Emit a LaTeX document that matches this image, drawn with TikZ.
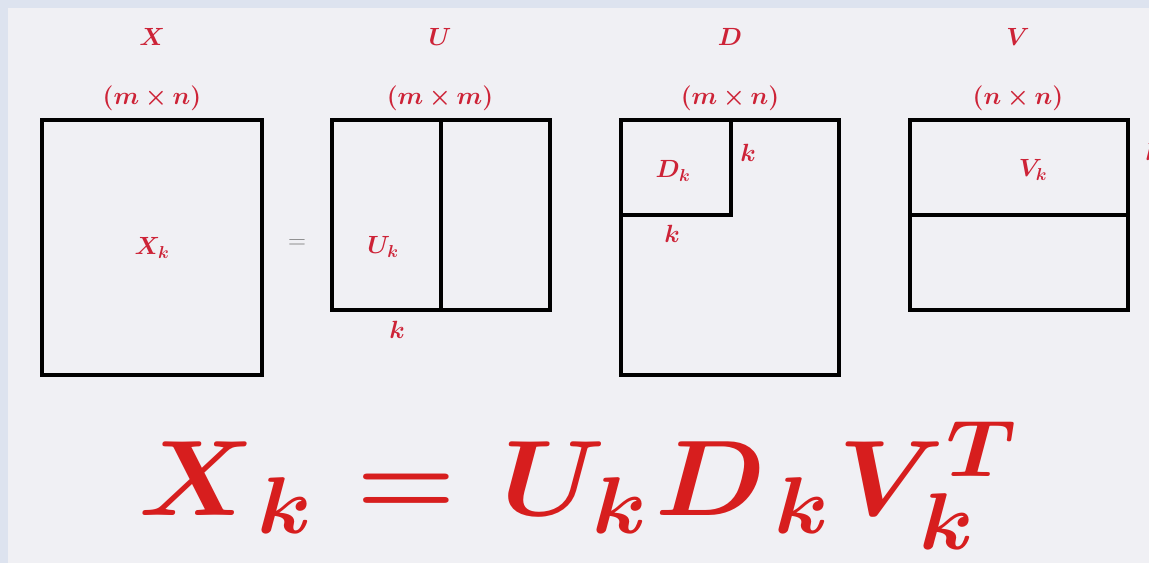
\documentclass[tikz,border=0pt]{standalone}
\usepackage{amsmath,bm,graphicx}
\DeclareMathSizes{12}{12}{9}{7}
\definecolor{bgc}{RGB}{240,240,244}
\definecolor{stripc}{RGB}{221,227,239}
\definecolor{lblred}{RGB}{205,35,55}
\definecolor{bigred}{RGB}{215,30,30}
\definecolor{eqgray}{RGB}{130,130,130}
\tikzset{
  mat/.style={draw=black,line width=4pt},
  lbl/.style={text=lblred,inner sep=0pt,font=\fontsize{24}{28}\selectfont},
}
\newcommand{\bs}[1]{\ensuremath{\boldsymbol{#1}}}
\begin{document}
\begin{tikzpicture}[x=1pt,y=-1pt]
\useasboundingbox (0,0) rectangle (1149,563);
\clip (0,0) rectangle (1149,563);
\fill[stripc] (0,0) rectangle (1149,563);
\fill[bgc] (8,8) rectangle (1149,563);
% matrices
\draw[mat] (42,120) rectangle (262,375);
\draw[mat] (332,120) rectangle (550,310);
\draw[mat] (441,120) -- (441,310);
\draw[mat] (621,120) rectangle (839,375);
\draw[mat] (621,215) -- (731,215) -- (731,120);
\draw[mat] (910,120) rectangle (1128,310);
\draw[mat] (910,215) -- (1128,215);
% titles
\node[lbl] (tX) at (152,37) {$\bs{X}$};
\node[lbl] (tU) at (440,37) {$\bs{U}$};
\node[lbl] (tD) at (730,37) {$\bs{D}$};
\node[lbl] (tV) at (1018,37) {$\bs{V}$};
\node[lbl] (sX) at (152,98) {$\bs{(m\times n)}$};
\node[lbl] (sU) at (440,98) {$\bs{(m\times m)}$};
\node[lbl] (sD) at (730,98) {$\bs{(m\times n)}$};
\node[lbl] (sV) at (1018,98) {$\bs{(n\times n)}$};
% inner labels
\node[lbl] (Xk) at (152,248) {$\bs{X_k}$};
\node[inner sep=0pt,text=eqgray,font=\fontsize{24}{28}\selectfont] (eq) at (297,244) {$=$};
\node[lbl] (Uk) at (383,247) {$\bs{U_k}$};
\node[lbl] (kU) at (397,330) {$\bs{k}$};
\node[lbl] (Dk) at (673,171) {$\bs{D_k}$};
\node[lbl] (kD1) at (748,153) {$\bs{k}$};
\node[lbl] (kD2) at (672,234) {$\bs{k}$};
\node[lbl] (Vk) at (1033,170) {$\bs{V_k}$};
\node[lbl] (kV) at (1153,152) {$\bs{k}$};
% big formula
\node[anchor=base west,inner sep=0pt,text=bigred,font=\fontsize{12}{14}\selectfont,xscale=9.5,yscale=8.95,transform shape] (big) at (137,515)
  {$\boldsymbol{X}_{\kern1.15pt\boldsymbol{k}}\mathrel{\kern0.85pt\boldsymbol{=}\kern1.35pt}\boldsymbol{U}_{\boldsymbol{k}}\kern0.4pt\boldsymbol{D}_{\kern1.3pt\boldsymbol{k}}\kern0.5pt\boldsymbol{V}_{\kern0.4pt\boldsymbol{k}}^{\kern0.2pt\boldsymbol{T}}$};
\end{tikzpicture}
\end{document}
